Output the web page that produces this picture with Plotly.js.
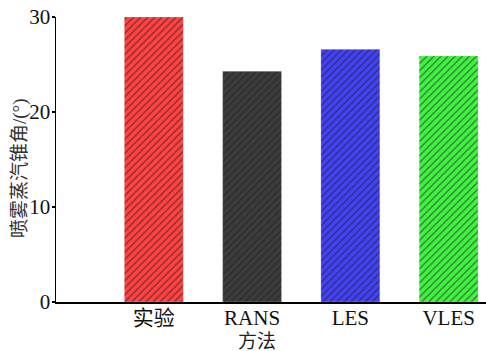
<!DOCTYPE html>
<html>
<head>
<meta charset="utf-8">
<script src="https://cdn.plot.ly/plotly-3.0.1.min.js"></script>
<style>
  html, body { margin: 0; padding: 0; background: #fff; }
  #chart { width: 486px; height: 351px; }
</style>
</head>
<body>
<div id="chart"></div>
<script>
// Spray vapour cone angle by method
const methods = ['实验', 'RANS', 'LES', 'VLES'];
const coneAngle = [30.0, 24.3, 26.6, 25.9];
const barColors = ['#ff4242', '#3c3c3c', '#4242f2', '#42f242'];

const yTicks = [0, 10, 20, 30];

const serif = '"Liberation Serif", "Times New Roman", "Noto Sans CJK SC", serif';

// one trace per method so each bar keeps its own solid fill under the hatching
const traces = methods.map((m, i) => ({
  type: 'bar',
  x: [m],
  y: [coneAngle[i]],
  width: 0.6,
  marker: {
    color: barColors[i],
    line: { color: 'rgba(255,255,255,0.5)', width: 0.5 },
    pattern: {
      shape: '/',
      fillmode: 'replace',
      bgcolor: barColors[i],
      fgcolor: '#1a1a1a',
      fgopacity: 0.6,
      size: 5,
      solidity: 0.22
    }
  },
  hoverinfo: 'x+y'
}));

const layout = {
  width: 486,
  height: 351,
  margin: { l: 56, r: 0, t: 17, b: 49 },
  paper_bgcolor: '#ffffff',
  plot_bgcolor: '#ffffff',
  showlegend: false,
  barmode: 'overlay',
  font: { family: serif, size: 21, color: '#111' },
  xaxis: {
    type: 'category',
    categoryarray: methods,
    range: [-0.995, 3.38],
    showline: true,
    linecolor: '#000',
    linewidth: 1.5,
    ticks: '',
    ticklabelstandoff: -4,
    showgrid: false,
    zeroline: false,
    tickfont: { family: serif, size: 21, color: '#111' }
  },
  yaxis: {
    range: [0, 30],
    tickvals: yTicks,
    ticktext: yTicks.map(String),
    showline: true,
    linecolor: '#000',
    linewidth: 1.5,
    ticks: 'outside',
    ticklen: 3,
    tickwidth: 1.2,
    tickcolor: '#000',
    ticklabelstandoff: -3,
    showgrid: false,
    zeroline: false,
    tickfont: { family: serif, size: 21, color: '#111' }
  },
  annotations: [
    {
      // y-axis title
      text: '喷雾蒸汽锥角/(°)',
      xref: 'paper', yref: 'paper',
      x: 0, y: (302 - 168) / 285,
      xanchor: 'center', yanchor: 'middle',
      xshift: -36,
      textangle: -90,
      showarrow: false,
      font: { family: serif, size: 19, color: '#333' }
    },
    {
      // x-axis title
      text: '方法',
      xref: 'paper', yref: 'paper',
      x: (257 - 56) / 430, y: 0,
      xanchor: 'center', yanchor: 'middle',
      yshift: -39,
      showarrow: false,
      font: { family: serif, size: 19, color: '#222' }
    }
  ]
};

Plotly.newPlot('chart', traces, layout, { displayModeBar: false, staticPlot: true });
</script>
</body>
</html>
